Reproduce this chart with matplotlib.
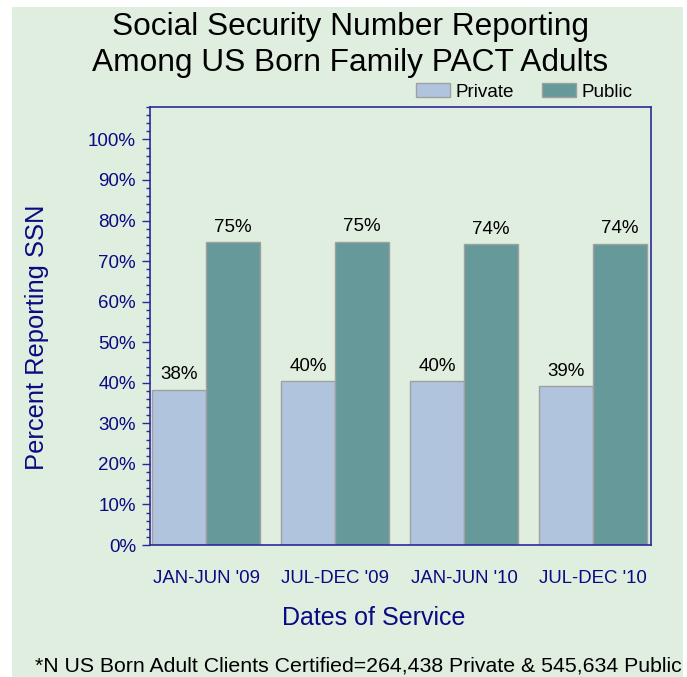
import matplotlib.pyplot as plt
import numpy as np
from matplotlib.patches import Rectangle
from matplotlib.ticker import MultipleLocator, FuncFormatter

plt.rcParams['font.family'] = ['Liberation Sans', 'DejaVu Sans']

# data
periods = ["JAN-JUN '09", "JUL-DEC '09", "JAN-JUN '10", "JUL-DEC '10"]
private = [38.3, 40.4, 40.4, 39.2]
public = [74.6, 74.8, 74.1, 74.3]
private_lbl = ["38%", "40%", "40%", "39%"]
public_lbl = ["75%", "75%", "74%", "74%"]

bg = '#e0eee0'
navy = '#0a0a82'
spine_c = '#2a2a9a'

fig = plt.figure(figsize=(6.87, 6.77), dpi=100)
fig.patch.set_facecolor('white')
fig.patches.append(Rectangle((12/687, 0), (683-12)/687, (677-7)/677,
                             transform=fig.transFigure, facecolor=bg,
                             edgecolor='none', zorder=-10))

ax = fig.add_axes([150/687, (677-545)/677, (651-150)/687, (545-107)/677])
ax.set_facecolor(bg)

x = np.arange(len(periods))
w = 0.42
b1 = ax.bar(x - w/2, private, w, color='#b0c4de', edgecolor='#a0a0a0', linewidth=1, label='Private')
b2 = ax.bar(x + w/2, public, w, color='#669999', edgecolor='#a0a0a0', linewidth=1, label='Public')

for xi, v, t in zip(x - w/2, private, private_lbl):
    ax.text(xi, v + 1.6, t, ha='center', va='bottom', fontsize=13.5, color='black')
for xi, v, t in zip(x + w/2, public, public_lbl):
    ax.text(xi, v + 1.6, t, ha='center', va='bottom', fontsize=13.5, color='black')

ax.set_xlim(-0.435, 3.45)
ax.set_ylim(0, 108)
ax.yaxis.set_major_locator(MultipleLocator(10))
ax.yaxis.set_minor_locator(MultipleLocator(2))
ax.set_yticks(np.arange(0, 101, 10))
ax.yaxis.set_major_formatter(FuncFormatter(lambda v, p: f"{int(v)}%"))
ax.tick_params(axis='y', which='major', length=6, width=1, color=spine_c,
               labelsize=13.5, labelcolor=navy, pad=4)
ax.tick_params(axis='y', which='minor', length=3, width=1, color=spine_c)
ax.set_xticks(x)
ax.set_xticklabels(periods)
ax.tick_params(axis='x', length=0, labelsize=13.4, labelcolor=navy, pad=18)
for s in ax.spines.values():
    s.set_color(spine_c)
    s.set_linewidth(1.2)

ax.set_xlabel('Dates of Service', fontsize=18, color=navy)
ax.xaxis.set_label_coords(0.447, -0.14)
ax.set_ylabel('Percent Reporting SSN', fontsize=18.4, color=navy)
ax.yaxis.set_label_coords(-0.202, 0.475)

fig.text(350/687, 1 - 45/677, 'Social Security Number Reporting\nAmong US Born Family PACT Adults',
         ha='center', va='center', fontsize=22.8, color='black', linespacing=1.27)

ax.legend(loc='center right', bbox_to_anchor=(633/687, 1 - 92/677),
          bbox_transform=fig.transFigure, ncol=2, frameon=False,
          fontsize=13.6, handlelength=1.8, handleheight=0.7, columnspacing=1.5,
          borderaxespad=0, borderpad=0, handletextpad=0.3)

fig.text(35/687, 1 - 666/677, '*N US Born Adult Clients Certified=264,438 Private & 545,634 Public',
         ha='left', va='center', fontsize=15.3, color='black')

fig.savefig('out.png', dpi=100, facecolor=fig.get_facecolor())
